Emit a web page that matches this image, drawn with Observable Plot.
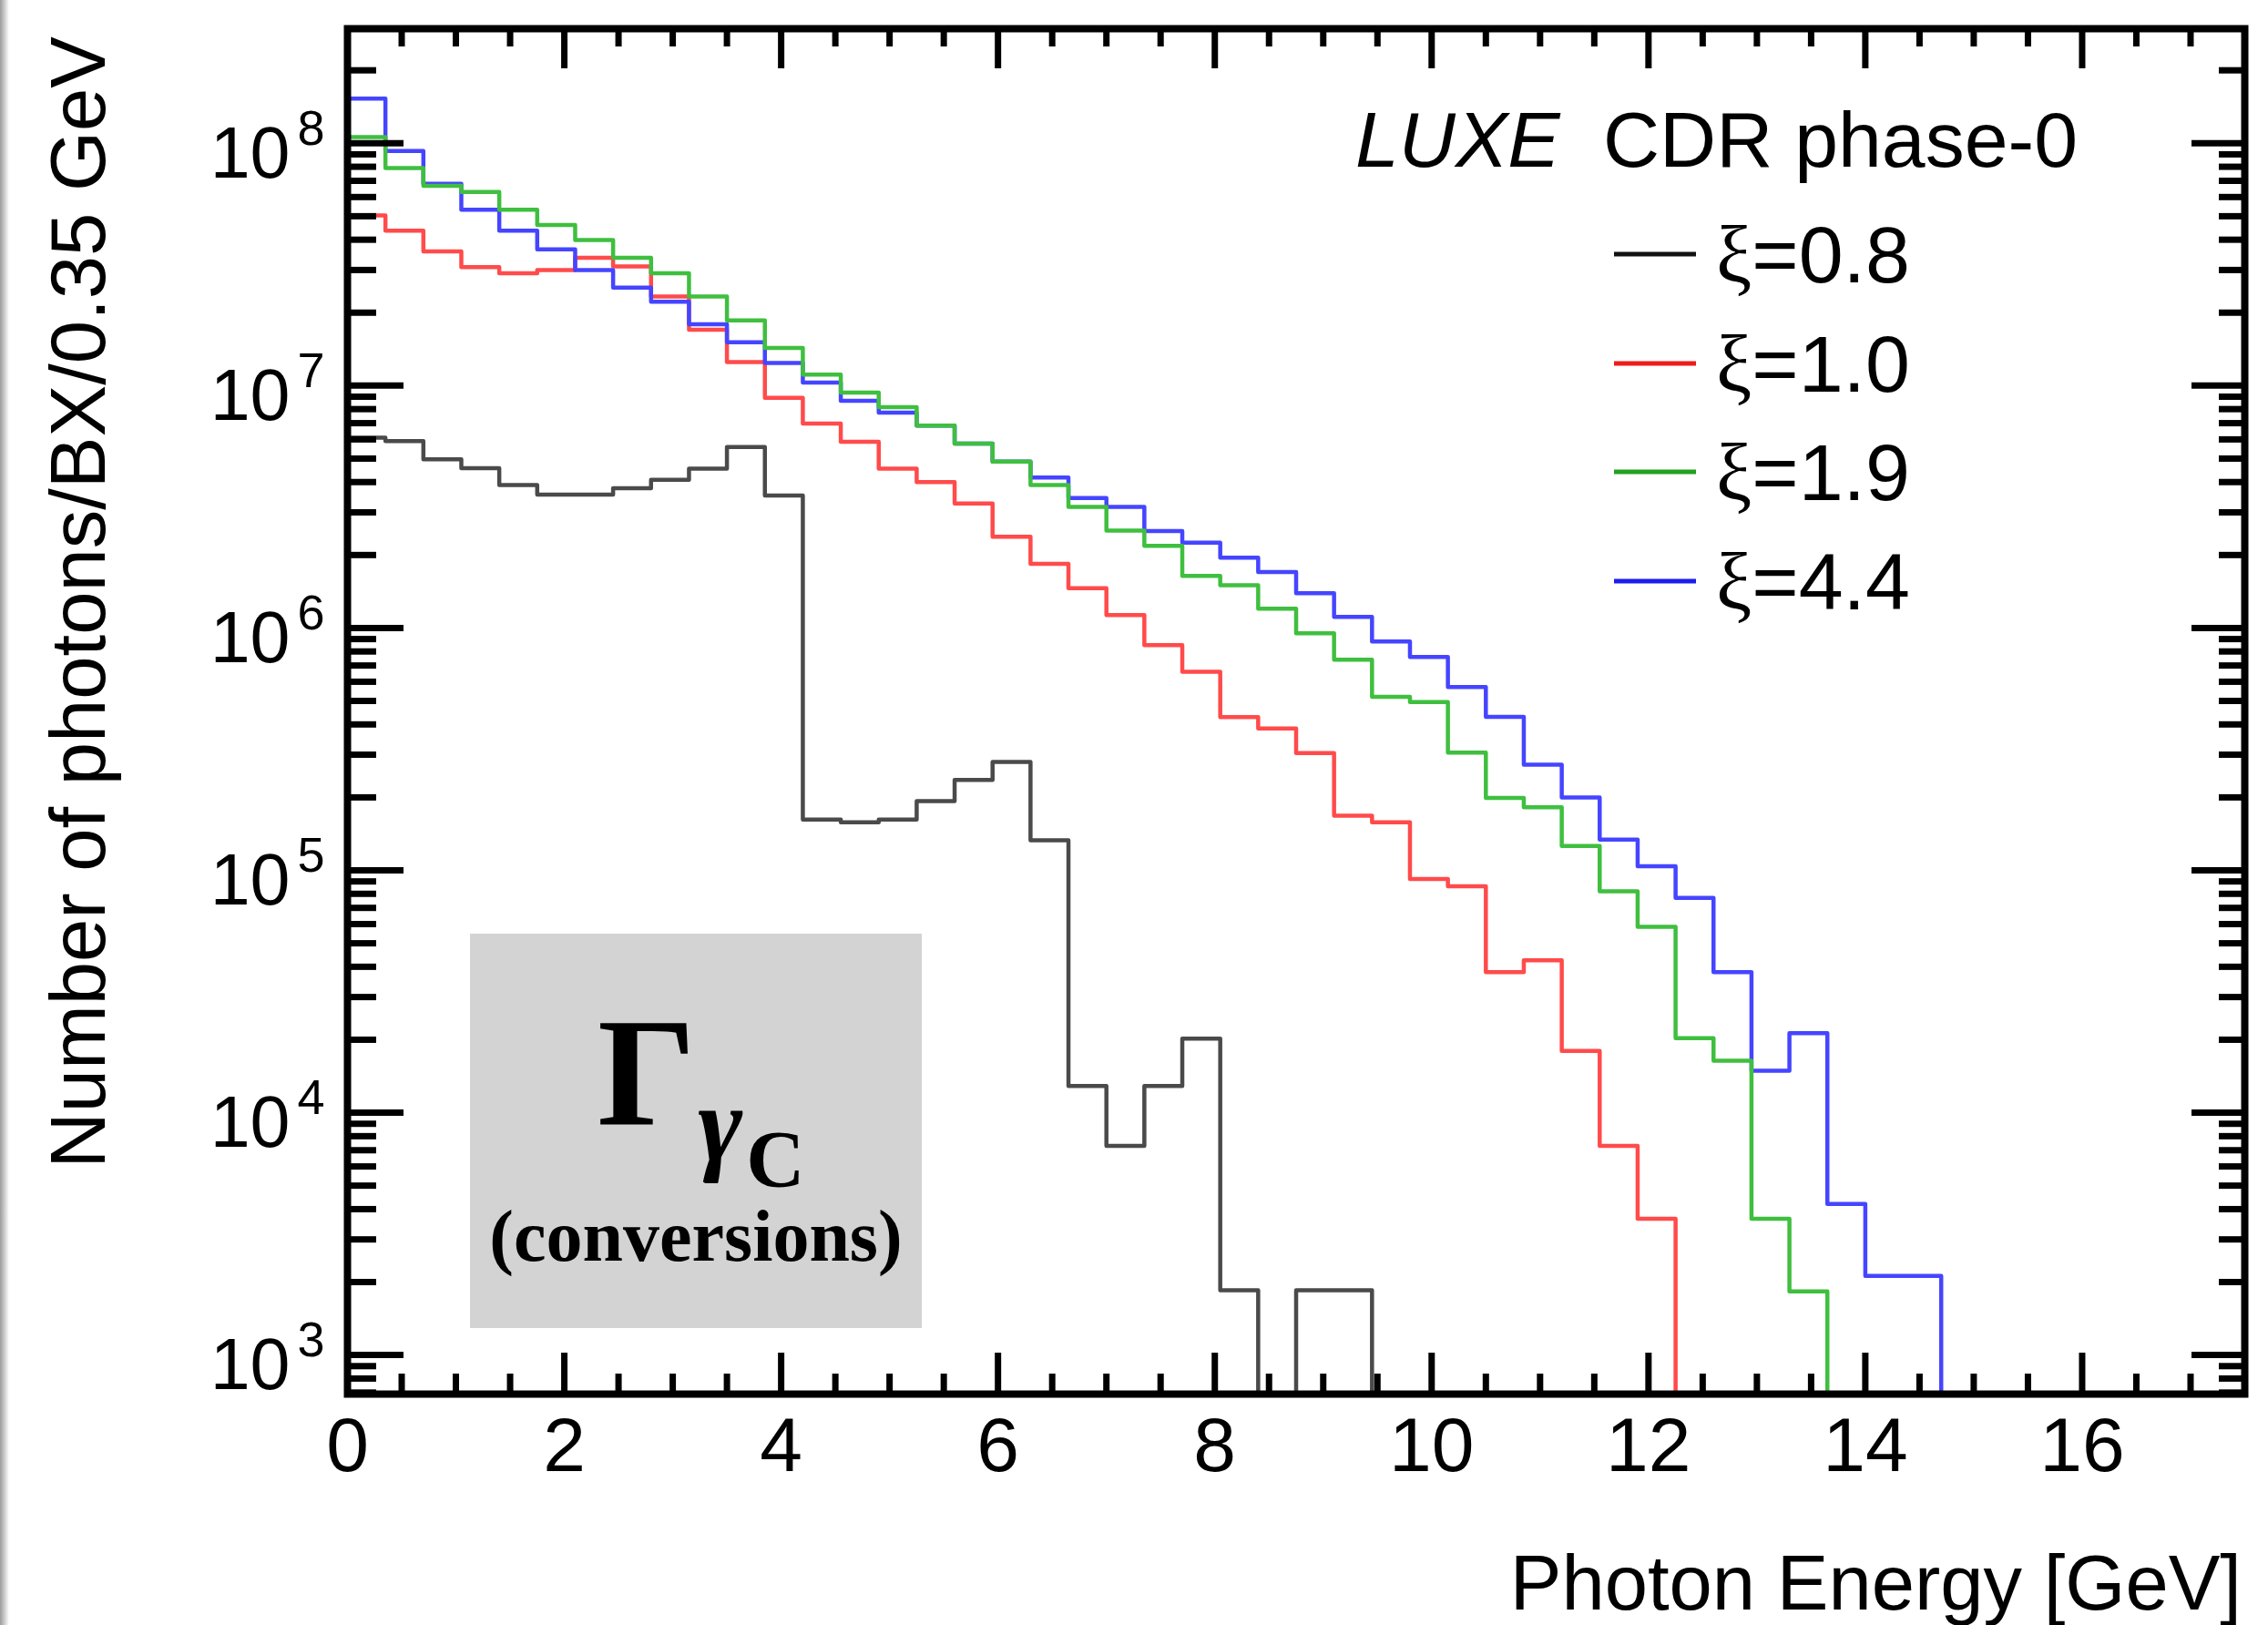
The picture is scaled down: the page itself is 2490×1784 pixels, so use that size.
<!DOCTYPE html>
<html>
<head>
<meta charset="utf-8">
<script src="https://cdn.jsdelivr.net/npm/d3@7"></script>
<script src="https://cdn.jsdelivr.net/npm/@observablehq/plot@0.6"></script>
<style>
  html, body { margin: 0; padding: 0; background: #ffffff; }
  #wrap { position: relative; width: 2490px; height: 1784px; overflow: hidden; background: #fff; }
  #wrap svg { position: absolute; left: 0; top: 0; }
</style>
</head>
<body>
<div id="wrap"></div>
<script>
// ---------------- DATA ----------------
const binWidth = 0.35;          // GeV per bin
const nBins = 50;               // 0 .. 17.5 GeV
const seriesLabels = ["0.8", "1.0", "1.9", "4.4"];

// Number of photons / BX / 0.35 GeV, one value per bin (0 = empty bin)
const xi08 = [6.1e6, 5.9e6, 4.97e6, 4.56e6, 3.89e6, 3.55e6, 3.55e6, 3.77e6, 4.09e6, 4.54e6,
              5.58e6, 3.52e6, 1.62e5, 1.58e5, 1.62e5, 1.93e5, 2.36e5, 2.80e5, 1.33e5, 1.29e4,
              7.3e3, 1.29e4, 2.02e4, 1.85e3, 0, 1.85e3, 1.85e3];
const xi10 = [5.04e7, 4.36e7, 3.58e7, 3.08e7, 2.91e7, 3.0e7, 3.37e7, 3.1e7, 2.33e7, 1.70e7,
              1.25e7, 8.9e6, 6.97e6, 5.87e6, 4.54e6, 4.0e6, 3.26e6, 2.38e6, 1.84e6, 1.46e6,
              1.13e6, 8.5e5, 6.6e5, 4.29e5, 3.85e5, 3.05e5, 1.68e5, 1.58e5, 9.2e4, 8.6e4,
              3.8e4, 4.25e4, 1.8e4, 7.3e3, 3.65e3];
const xi19 = [1.06e8, 7.9e7, 6.67e7, 6.3e7, 5.32e7, 4.6e7, 3.99e7, 3.37e7, 2.91e7, 2.33e7,
              1.86e7, 1.43e7, 1.11e7, 9.35e6, 8.15e6, 6.84e6, 5.77e6, 4.86e6, 3.89e6, 3.16e6,
              2.52e6, 2.18e6, 1.64e6, 1.50e6, 1.20e6, 9.5e5, 7.4e5, 5.2e5, 4.95e5, 3.06e5,
              1.99e5, 1.82e5, 1.26e5, 8.2e4, 5.85e4, 2.03e4, 1.64e4, 3.65e3, 1.83e3];
const xi44 = [1.53e8, 9.3e7, 6.8e7, 5.32e7, 4.36e7, 3.65e7, 3.0e7, 2.54e7, 2.22e7, 1.79e7,
              1.51e7, 1.24e7, 1.03e7, 8.65e6, 7.73e6, 6.84e6, 5.77e6, 4.86e6, 4.18e6, 3.44e6,
              3.16e6, 2.51e6, 2.25e6, 1.95e6, 1.70e6, 1.39e6, 1.11e6, 8.8e5, 7.6e5, 5.7e5,
              4.3e5, 2.73e5, 2.0e5, 1.34e5, 1.04e5, 7.7e4, 3.8e4, 1.49e4, 2.13e4, 4.2e3,
              2.12e3, 2.12e3];

// axis ticks / labels
const xMajorTicks = [0, 2, 4, 6, 8, 10, 12, 14, 16];
const xTickLabels = ["0", "2", "4", "6", "8", "10", "12", "14", "16"];
const xMinorTicks = d3.range(0.5, 17.5, 0.5).filter(v => v % 2 !== 0);
const yMajorTicks = [1e3, 1e4, 1e5, 1e6, 1e7, 1e8];
const yTickExponents = ["3", "4", "5", "6", "7", "8"];
const yMinorTicks = [7e2, 8e2, 9e2].concat(...[3, 4, 5, 6, 7].map(e => [2,3,4,5,6,7,8,9].map(k => k * 10 ** e)), [2e8]);

const xTitle = "Photon Energy [GeV]";
const yTitle = "Number of photons/BX/0.35 GeV";

// ---------------- STYLE ----------------
const W = 2490, H = 1784;
const mL = 381, mR = 26, mT = 31, mB = 254;
const pw = W - mL - mR, ph = H - mT - mB;
const lineColors = ["#4a4a4a", "#ff4b4b", "#3fbf3f", "#4545ff"];
const legendColors = ["#111111", "#ee1c1c", "#1fa21f", "#1c1cee"];
const sans = "'Liberation Sans', Arial, Helvetica, sans-serif";
const serif = "'Liberation Serif', 'Times New Roman', serif";
const FLOOR = 1; // empty bins drawn below the axis (clipped), like ROOT

function histRows(values) {
  const rows = [];
  for (let i = 0; i < nBins; i++) {
    const v = values[i] || 0;
    rows.push({x: i * binWidth, y: v > 0 ? v : FLOOR});
  }
  rows.push({x: nBins * binWidth, y: FLOOR});
  return rows;
}
const allSeries = [xi08, xi10, xi19, xi44];
const drawOrder = [0, 1, 3, 2];

const tickStyle = {stroke: "black", strokeWidth: 7};

const chart = Plot.plot({
  width: W, height: H,
  marginLeft: mL, marginRight: mR, marginTop: mT, marginBottom: mB,
  style: {background: "white", fontFamily: sans, color: "black"},
  x: {domain: [0, nBins * binWidth], label: null},
  y: {type: "log", domain: [690, 2.97e8], label: null, axis: null},
  marks: [
    ...drawOrder.map(k => Plot.line(histRows(allSeries[k]), {
      x: "x", y: "y", curve: "step-after", stroke: lineColors[k], strokeWidth: 4.5, clip: true
    })),
    // bottom ticks (inward)
    Plot.ruleX(xMajorTicks, {x: d => d, insetTop: ph - 45, ...tickStyle}),
    Plot.ruleX(xMinorTicks, {x: d => d, insetTop: ph - 22, ...tickStyle}),
    // top ticks
    Plot.ruleX(xMajorTicks, {x: d => d, insetBottom: ph - 44, ...tickStyle}),
    Plot.ruleX(xMinorTicks, {x: d => d, insetBottom: ph - 20, ...tickStyle}),
    // left ticks
    Plot.ruleY(yMajorTicks, {y: d => d, insetRight: pw - 62, ...tickStyle}),
    Plot.ruleY(yMinorTicks, {y: d => d, insetRight: pw - 32, ...tickStyle}),
    // right ticks
    Plot.ruleY(yMajorTicks, {y: d => d, insetLeft: pw - 58, ...tickStyle}),
    Plot.ruleY(yMinorTicks, {y: d => d, insetLeft: pw - 28, ...tickStyle}),
    // x tick labels
    Plot.axisX(xMajorTicks, {anchor: "bottom", tickSize: 0, tickPadding: 25, fontSize: 84, label: null,
      fontFamily: sans, tickFormat: (d, i) => xTickLabels[xMajorTicks.indexOf(d)]}),
    // y tick labels 10^n
    Plot.text(yMajorTicks, {y: d => d, frameAnchor: "left", text: () => "10", textAnchor: "end",
      dx: -63, dy: 12, fontSize: 79, fontFamily: sans}),
    Plot.text(yMajorTicks, {y: d => d, frameAnchor: "left", text: (d, i) => yTickExponents[i], textAnchor: "start",
      dx: -55, dy: -16, fontSize: 54, fontFamily: sans}),
    Plot.frame({stroke: "black", strokeWidth: 8})
  ]
});

const wrap = document.getElementById("wrap");
wrap.appendChild(chart);

// ---------------- overlay: titles, legend, annotation box ----------------
const ov = d3.create("svg").attr("width", W).attr("height", H)
  .style("pointer-events", "none").style("font-family", sans);

// left edge shadow of the original image
const grad = ov.append("defs").append("linearGradient").attr("id", "edge")
  .attr("x1", "0").attr("x2", "1").attr("y1", "0").attr("y2", "0");
grad.append("stop").attr("offset", "0").attr("stop-color", "#9c9c9c");
grad.append("stop").attr("offset", "1").attr("stop-color", "#ffffff");
ov.append("rect").attr("x", 0).attr("y", 0).attr("width", 10).attr("height", H).attr("fill", "url(#edge)");

// axis titles
ov.append("text").attr("transform", "translate(115,40) rotate(-90)")
  .attr("text-anchor", "end").attr("font-size", 85).text(yTitle);
ov.append("text").attr("x", 2461).attr("y", 1767)
  .attr("text-anchor", "end").attr("font-size", 85).text(xTitle);

// legend header
ov.append("text").attr("x", 1488).attr("y", 183).attr("font-size", 86)
  .attr("font-style", "italic").text("LUXE");
ov.append("text").attr("x", 1760).attr("y", 183).attr("font-size", 86).text("CDR phase-0");

// legend entries
const legY = [279, 399, 518, 638];
seriesLabels.forEach((lab, i) => {
  ov.append("line").attr("x1", 1772).attr("x2", 1862).attr("y1", legY[i]).attr("y2", legY[i])
    .attr("stroke", legendColors[i]).attr("stroke-width", 5);
  const t = ov.append("text").attr("x", 1884).attr("y", legY[i] + 31).attr("font-size", 88);
  t.append("tspan").attr("font-family", serif).text("ξ");
  t.append("tspan").text("=" + lab);
});

// annotation box
ov.append("rect").attr("x", 516).attr("y", 1025).attr("width", 496).attr("height", 433).attr("fill", "#d3d3d3");
const g = ov.append("text").attr("x", 656).attr("y", 1234).attr("font-family", serif).attr("font-weight", "bold");
g.append("tspan").attr("font-size", 170).text("Γ");
g.append("tspan").attr("font-size", 118).attr("font-style", "italic").attr("dx", 2).attr("dy", 40).text("γ");
g.append("tspan").attr("font-size", 89).attr("dx", 4).attr("dy", 28).text("C");
ov.append("text").attr("x", 764).attr("y", 1384).attr("font-family", serif).attr("font-weight", "bold")
  .attr("text-anchor", "middle").attr("font-size", 80).text("(conversions)");

wrap.appendChild(ov.node());
</script>
</body>
</html>
